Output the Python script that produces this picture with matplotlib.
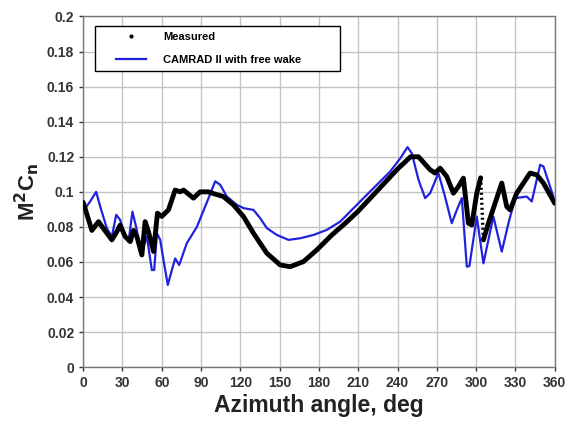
import matplotlib.pyplot as plt
from matplotlib.lines import Line2D
from matplotlib.legend_handler import HandlerLine2D

plt.rcParams['font.family'] = ['Liberation Sans', 'DejaVu Sans']
plt.rcParams['font.weight'] = 'bold'

# Measured M^2Cn vs azimuth (deg)
meas_az = [0, 6.6, 11.7, 15.5, 21.9, 25.7, 28.2, 32, 35.9, 38.4, 41, 44.8, 47.3,
           49.8, 53.7, 56.7, 60, 65.1, 70.2, 74, 76.6, 84.2, 89.3, 95.7, 99.5,
           107, 114.7, 122.4, 130, 140.2, 150.4, 158, 168.2, 178.4, 190, 200,
           210, 220, 230, 240, 250, 256, 264.9, 268.7, 272.5, 277.6, 282.7,
           286.5, 290.3, 294.1, 296.7, 300.5, 303.5]
meas_val = [0.094, 0.078, 0.083, 0.079, 0.0726, 0.0773, 0.081, 0.0745, 0.0716,
            0.078, 0.0745, 0.064, 0.083, 0.0773, 0.066, 0.0878, 0.086, 0.0897,
            0.101, 0.100, 0.101, 0.0964, 0.100, 0.100, 0.099, 0.0973, 0.0926,
            0.0859, 0.0764, 0.065, 0.0583, 0.0573, 0.0602, 0.0669, 0.0755,
            0.082, 0.089, 0.097, 0.105, 0.113, 0.120, 0.120, 0.1126, 0.1107,
            0.1135, 0.1087, 0.0992, 0.103, 0.1078, 0.0821, 0.0811, 0.0992, 0.108]
# sparse measured points in the gap
gap_az = [303.5, 305.6]
gap_val = [0.108, 0.0726]
meas2_az = [305.6, 309.4, 314.5, 319.6, 323.4, 326, 331, 341.2, 346.3, 351.4, 360]
meas2_val = [0.0726, 0.0821, 0.0935, 0.105, 0.0916, 0.0897, 0.0992, 0.1107,
             0.1097, 0.105, 0.0935]

# CAMRAD II with free wake
cam_az = [1, 5.3, 9.9, 13, 18, 21.9, 25.2, 28.2, 32, 34.6, 37.6, 41, 43.5, 46,
          48.6, 52.4, 54.2, 56.3, 58.8, 61.3, 64.6, 67.7, 70.2, 73.3, 79.1,
          86.8, 93.1, 95.7, 100.8, 104.6, 109.7, 117.3, 122.4, 130, 135.1,
          140.2, 147.9, 156.7, 165.6, 175.8, 186, 196.2, 214, 234.4, 242,
          247.6, 250.9, 256, 261.1, 264.9, 271.2, 276, 281.4, 285.3, 289.1,
          292.9, 294.9, 300.5, 305.6, 309.4, 313.2, 319.6, 324.7, 329.8,
          338.7, 342.5, 348.9, 351.4, 359]
cam_val = [0.09, 0.0945, 0.100, 0.0916, 0.0793, 0.0745, 0.0869, 0.084, 0.0745,
           0.0716, 0.0887, 0.078, 0.065, 0.0687, 0.0745, 0.0554, 0.0554, 0.0764,
           0.0726, 0.0611, 0.0469, 0.0554, 0.062, 0.0583, 0.0707, 0.080, 0.0916,
           0.0964, 0.106, 0.104, 0.0973, 0.0926, 0.0907, 0.0897, 0.085, 0.0793,
           0.0754, 0.0726, 0.0735, 0.0754, 0.0783, 0.083, 0.0964, 0.1116, 0.119,
           0.1255, 0.122, 0.1069, 0.0964, 0.0992, 0.1107, 0.098, 0.0821, 0.0897,
           0.0964, 0.0573, 0.0577, 0.0859, 0.0592, 0.0726, 0.0859, 0.0659,
           0.0821, 0.0964, 0.0973, 0.0945, 0.1154, 0.1145, 0.0973]

xticks = list(range(0, 361, 30))
yticks = [0, 0.02, 0.04, 0.06, 0.08, 0.1, 0.12, 0.14, 0.16, 0.18, 0.2]
ytick_labels = ['0', '0.02', '0.04', '0.06', '0.08', '0.1', '0.12', '0.14',
                '0.16', '0.18', '0.2']

fig = plt.figure(figsize=(5.66, 4.23), dpi=100)
ax = fig.add_axes([0.147, 0.132, 0.833, 0.829])

ax.plot(cam_az, cam_val, color='#2222dd', lw=1.6, zorder=3)
ax.plot(meas_az, meas_val, color='black', lw=3.5, solid_capstyle='round', zorder=4)
ax.plot(gap_az, gap_val, color='black', lw=2.4, ls=(0, (0.6, 0.9)), zorder=4)
ax.plot(meas2_az, meas2_val, color='black', lw=3.5, solid_capstyle='round', zorder=4)

ax.set_xlim(0, 360)
ax.set_ylim(0, 0.2)
ax.set_xticks(xticks)
ax.set_yticks(yticks)
ax.set_yticklabels(ytick_labels)
ax.tick_params(labelsize=10, colors='#333333', length=3, width=1)
ax.grid(True, color='#c4c4c4', lw=1)
ax.set_axisbelow(True)
for s in ax.spines.values():
    s.set_color('#777777')
    s.set_linewidth(1)

ax.set_xlabel('Azimuth angle, deg', fontsize=16.5, fontweight='bold', color='#222222',
              labelpad=3)
ax.set_ylabel(r'M$^\mathbf{2}$C$_\mathbf{n}$', fontsize=16, fontweight='bold',
              color='#222222', labelpad=4)

handles = [Line2D([], [], color='black', marker='.', ms=4, ls='none'),
           Line2D([], [], color='#2222dd', lw=1.6)]
hmap = {h: HandlerLine2D(xpad=1.36) for h in handles}
leg = ax.legend(handles, ['Measured', 'CAMRAD II with free wake'],
                loc='upper left', bbox_to_anchor=(0.025, 0.835, 0.52, 0.137),
                mode='expand', borderaxespad=0, handlelength=4.1,
                handletextpad=1.5, labelspacing=1.2, borderpad=0.5,
                fancybox=False, framealpha=1, handler_map=hmap,
                prop={'weight': 'bold', 'size': 8})
leg.get_frame().set_edgecolor('black')
leg.get_frame().set_linewidth(1)

fig.savefig('out.png', dpi=100, facecolor='white')
